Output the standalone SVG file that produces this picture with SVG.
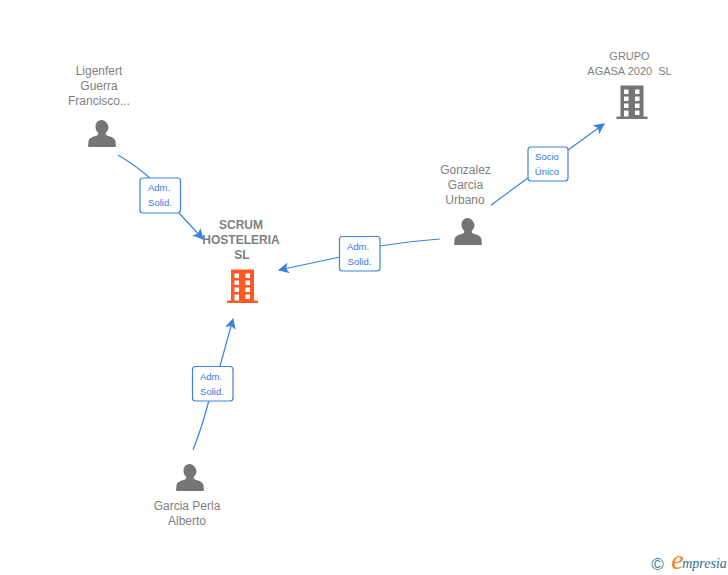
<svg xmlns="http://www.w3.org/2000/svg" width="728" height="575" viewBox="0 0 728 575">
<style>
text{font-family:"Liberation Sans",Arial,sans-serif;text-anchor:middle}
.n{font-size:12px;fill:#7f7f7f}
.s{font-size:11px}
.b{font-weight:bold}
.l{font-size:9.5px;fill:#2f7ae0}
.c{fill:none;stroke:#3b82e0;stroke-width:1.2}
.lb{fill:#fff;stroke:#3b82e0;stroke-width:1.2}
</style>
<defs>
<marker id="a" viewBox="0 0 10 10" refX="9" refY="5" markerWidth="11" markerHeight="11" markerUnits="userSpaceOnUse" orient="auto"><path d="M0 0L10 5L0 10L2.500 5Z" fill="#3b82e0"/></marker>
<path id="p" d="M0 0c-3.600 0-6 3-6 6.700 0 2.600 1 4.600 2.600 6 .3 1 .2 2-.6 2.600-3 1.300-7.600 2-8.700 5-.4 1.200-.6 3-.6 6.700h27.600c0-3.700-.2-5.500-.6-6.700-1.100-3-5.700-3.700-8.700-5-.8-.6-.9-1.600-.6-2.600 1.600-1.400 2.600-3.400 2.600-6C6 3 3.600 0 0 0Z"/>
<path id="h" fill-rule="evenodd" d="M-11.500 0H11.500V31H15.500V33.500H-15.500V31H-11.500ZM-8 4V8.500H-3.500V4ZM3 4V8.500H7.500V4ZM-8 11V15.500H-3.500V11ZM3 11V15.500H7.500V11ZM-8 18V22.500H-3.500V18ZM3 18V22.500H7.500V18ZM-8 25V31H-3.500V25ZM3 25V29.500H7.500V25Z"/>
</defs>
<g id="connectors">
<path class="c" d="M118 155Q135 165 150 178"/>
<path class="c" d="M179 213L203 239" marker-end="url(#a)"/>
<path class="c" d="M440 239Q410 241 380 246"/>
<path class="c" d="M340 257L279 270" marker-end="url(#a)"/>
<path class="c" d="M491 205L528 178"/>
<path class="c" d="M568 150L604 124" marker-end="url(#a)"/>
<path class="c" d="M193 450Q204 422 211 392"/>
<path class="c" d="M220 366L233 319" marker-end="url(#a)"/>
</g>
<g id="node-ligenfert">
<text class="n" x="99" y="75">Ligenfert</text><text class="n" x="99" y="90">Guerra</text><text class="n" x="99" y="105">Francisco...</text>
<use href="#p" x="101.500" y="120" fill="#757575"/>
</g>
<g id="node-scrum">
<text class="n b" x="241" y="229">SCRUM</text><text class="n b" x="241" y="244">HOSTELERIA</text><text class="n b" x="242" y="259">SL</text>
<use href="#h" x="242.500" y="269.500" fill="#ff5a26"/>
</g>
<g id="node-grupo">
<text class="n s" x="629.500" y="60">GRUPO</text><text class="n s" x="629.500" y="75" xml:space="preserve">AGASA 2020  SL</text>
<use href="#h" x="632" y="85.500" fill="#757575"/>
</g>
<g id="node-gonzalez">
<text class="n" x="465.500" y="174">Gonzalez</text><text class="n" x="465.500" y="189">Garcia</text><text class="n" x="465" y="204">Urbano</text>
<use href="#p" x="467.500" y="218" fill="#757575"/>
</g>
<g id="node-garcia">
<use href="#p" x="189.500" y="464" fill="#757575"/>
<text class="n" x="187" y="510">Garcia Perla</text><text class="n" x="187" y="525">Alberto</text>
</g>
<g id="label-1"><rect class="lb" x="140" y="178" width="40.500" height="35" rx="3"/><text class="l" x="159" y="191">Adm.</text><text class="l" x="160" y="206">Solid.</text></g>
<g id="label-2"><rect class="lb" x="339.500" y="236.500" width="40.500" height="34.500" rx="3"/><text class="l" x="358" y="250">Adm.</text><text class="l" x="359.500" y="265">Solid.</text></g>
<g id="label-3"><rect class="lb" x="528" y="147" width="40" height="34" rx="3"/><text class="l" x="547" y="160">Socio</text><text class="l" x="547" y="175">Único</text></g>
<g id="label-4"><rect class="lb" x="192.500" y="366.500" width="40.500" height="34.500" rx="3"/><text class="l" x="211" y="380">Adm.</text><text class="l" x="212" y="395">Solid.</text></g>
<g id="logo">
<text x="657.500" y="570" style="font-size:17px;fill:#3a7d93">©</text>
<text x="677.500" y="569" style="font-family:'Liberation Serif',serif;font-style:italic;font-size:28px;fill:#f0861e">e</text>
<text x="704.500" y="568" style="font-family:'Liberation Serif',serif;font-style:italic;font-size:14px;fill:#2f6f8f">mpresia</text>
</g>
</svg>
